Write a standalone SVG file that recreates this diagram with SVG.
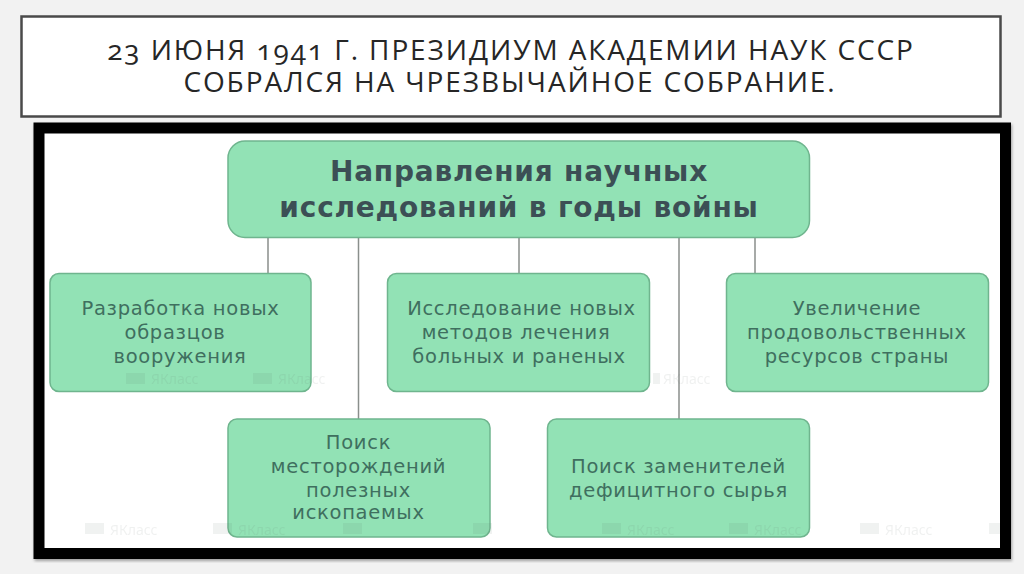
<svg xmlns="http://www.w3.org/2000/svg" width="1024" height="574" viewBox="0 0 1024 574">
<style>
.ttl{font-family:"Open Sans","Noto Sans",sans-serif;font-size:28px;letter-spacing:1.9px;fill:#262626;text-anchor:middle;font-variant-numeric:oldstyle-nums}
.n{fill:#92e2b5;stroke:#6fb58e;stroke-width:1.5}
.t{font-family:"DejaVu Sans","Noto Sans",sans-serif;font-size:19.500px;letter-spacing:.7px;fill:#3f6f5f;text-anchor:middle}
.h{font-family:"DejaVu Sans","Noto Sans",sans-serif;font-size:28px;letter-spacing:.8px;font-weight:700;fill:#3c4f55;text-anchor:middle}
.c{stroke:#8a8f8c;stroke-width:1.5;fill:none}
.w{font-family:"Noto Sans",sans-serif;font-size:14px;fill:#5d6a64;opacity:.09}
.i{fill:#5d6a64;opacity:.09}
</style>
<defs><filter id="s" x="-2%" y="-2%" width="104%" height="104%"><feDropShadow dx="1" dy="2" stdDeviation="1.500" flood-color="#000" flood-opacity=".35"/></filter></defs>
<rect width="1024" height="574" fill="#f2f2f2"/>
<g id="title">
<rect x="21.500" y="16.500" width="979" height="100" fill="#fff" stroke="#4a4a4a" stroke-width="2.500"/>
<text class="ttl" x="511" y="60">23 ИЮНЯ 1941 Г. ПРЕЗИДИУМ АКАДЕМИИ НАУК СССР</text>
<text class="ttl" x="510" y="92">СОБРАЛСЯ НА ЧРЕЗВЫЧАЙНОЕ СОБРАНИЕ.</text>
</g>
<g id="frame">
<rect x="39" y="128" width="966.500" height="425.500" fill="#fff" stroke="#000" stroke-width="11" filter="url(#s)"/>
</g>
<g id="connectors">
<path class="c" d="M268 237V273M358.500 237V419M519 237V273M679 237V419M755 237V273"/>
</g>
<g id="root"><rect class="n" x="228" y="141" width="581.500" height="96.500" rx="17"/>
<text class="h" x="519" y="181">Направления научных</text>
<text class="h" x="519" y="217">исследований в годы войны</text></g>
<g id="n1"><rect class="n" x="50" y="273.500" width="261" height="118" rx="9"/>
<text class="t" x="180.500" y="315">Разработка новых</text><text class="t" x="175" y="339">образцов</text><text class="t" x="180" y="363">вооружения</text></g>
<g id="n2"><rect class="n" x="387.500" y="273.500" width="262" height="118" rx="9"/>
<text class="t" x="521.500" y="315">Исследование новых</text><text class="t" x="516" y="339">методов лечения</text><text class="t" x="519" y="363">больных и раненых</text></g>
<g id="n3"><rect class="n" x="726.500" y="273.500" width="262" height="118" rx="9"/>
<text class="t" x="857" y="315">Увеличение</text><text class="t" x="857" y="339">продовольственных</text><text class="t" x="857" y="363">ресурсов страны</text></g>
<g id="n4"><rect class="n" x="228" y="419" width="262" height="118" rx="9"/>
<text class="t" x="358.500" y="449">Поиск</text><text class="t" x="358.500" y="473">месторождений</text><text class="t" x="358.500" y="497">полезных</text><text class="t" x="358.500" y="519">ископаемых</text></g>
<g id="n5"><rect class="n" x="547.500" y="419" width="262" height="118" rx="9"/>
<text class="t" x="678.500" y="473">Поиск заменителей</text><text class="t" x="678.500" y="497">дефицитного сырья</text></g>
<g id="watermarks">
<path class="i" d="M85 523h19v11H85zM213 523h19v11h-19zM343 523h19v11h-19zM473 523h19v11h-19zM602 523h19v11h-19zM729 523h19v11h-19zM860 523h19v11h-19zM989 523h11v11h-11zM126 373h19v11h-19zM253 373h19v11h-19zM653 373h7v11h-7z"/>
<text class="w" x="110" y="535">ЯКласс</text><text class="w" x="238" y="535">ЯКласс</text>
<text class="w" x="627" y="535">ЯКласс</text><text class="w" x="754" y="535">ЯКласс</text><text class="w" x="885" y="535">ЯКласс</text>
<text class="w" x="151" y="384">ЯКласс</text><text class="w" x="278" y="384">ЯКласс</text><text class="w" x="663" y="384">ЯКласс</text>
</g>
</svg>
